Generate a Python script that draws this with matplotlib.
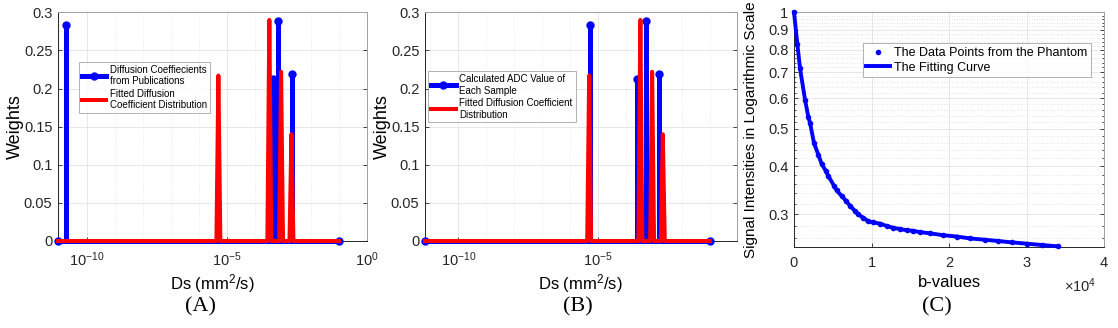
import numpy as np
import matplotlib
matplotlib.use('Agg')
import matplotlib.pyplot as plt
from matplotlib.ticker import FixedLocator, FuncFormatter, NullFormatter

plt.rcParams['font.family'] = ['Liberation Sans', 'DejaVu Sans']
plt.rcParams['mathtext.fontset'] = 'custom'
plt.rcParams['mathtext.rm'] = 'Liberation Sans'
plt.rcParams['mathtext.it'] = 'Liberation Sans:italic'

# ---------------- data ----------------
# Panel A
a_range = [9.1e-12, 1.0e-1]
a_pub_ds = [1.74e-11, 4.47e-4, 6.46e-4, 2.09e-3]
a_pub_w = [0.283, 0.213, 0.288, 0.219]
a_fit_ds = [4.9e-6, 3.24e-4, 8.5e-4, 2.0e-3]
a_fit_w = [0.217, 0.290, 0.222, 0.140]

# Panel B
b_range = [6.5e-12, 9.5e-2]
b_adc_ds = [5.0e-6, 2.34e-4, 4.9e-4, 1.41e-3]
b_adc_w = [0.283, 0.213, 0.288, 0.219]
b_fit_ds = [4.7e-6, 3.16e-4, 8.3e-4, 2.0e-3]
b_fit_w = [0.217, 0.290, 0.222, 0.140]

# Panel C
c_b = [0, 430, 774, 1420, 1850, 2065, 2580, 3140, 3570, 4130, 4430, 5160, 5500,
       6150, 6710, 7230, 7870, 8300, 8950, 9590, 10240, 11100, 11960, 12820,
       13680, 14540, 15400, 16260, 17550, 19270, 20990, 22710, 24650, 26360,
       28090, 30030, 31960, 34030]
c_sig = [1.0, 0.828, 0.717, 0.594, 0.536, 0.518, 0.459, 0.428, 0.405, 0.388,
         0.377, 0.356, 0.346, 0.335, 0.325, 0.316, 0.306, 0.300, 0.294, 0.288,
         0.286, 0.284, 0.280, 0.277, 0.275, 0.273, 0.272, 0.270, 0.268, 0.265,
         0.263, 0.260, 0.258, 0.256, 0.254, 0.252, 0.250, 0.248]

W, H = 1118, 328
fig = plt.figure(figsize=(W / 100, H / 100), dpi=100)


def px_axes(l, t, r, b):
    return fig.add_axes([l / W, 1 - b / H, (r - l) / W, (b - t) / H])


def stem_line(rng, ds, w):
    xs, ys = [rng[0]], [0.0]
    for d, v in zip(ds, w):
        xs += [d, d, d]
        ys += [0.0, v, 0.0]
    xs.append(rng[1]); ys.append(0.0)
    return xs, ys


def peak_line(rng, ds, w, half=10 ** 0.07):
    xs, ys = [rng[0]], [0.0]
    for d, v in zip(ds, w):
        xs += [d / half, d, d * half]
        ys += [0.0, v, 0.0]
    xs.append(rng[1]); ys.append(0.0)
    return xs, ys


def style(ax):
    for s in ['left', 'bottom']:
        ax.spines[s].set_color('#262626')
    for s in ['top', 'right']:
        ax.spines[s].set_color('#a0a0a0')
    for s in ax.spines.values():
        s.set_linewidth(0.7)
    ax.tick_params(direction='in', length=3, width=0.6, colors='#262626',
                   labelsize=10.5, top=False, right=True, pad=4)
    ax.tick_params(axis='x', pad=7)
    ax.tick_params(which='minor', direction='in', length=1.5, width=0.5,
                   right=True)
    ax.set_axisbelow(True)


blue = '#0000ff'
red = '#ff0000'


def weight_panel(ax, rng, bds, bw, rds, rw, xlim, lab1, lab2, leg_xy):
    bx, by = stem_line(rng, bds, bw)
    rx, ry = peak_line(rng, rds, rw)
    ax.plot(bx, by, '-', color=blue, lw=3.6, marker='o', ms=5,
            markevery=[0, 2, 5, 8, 11, len(bx) - 1], label=lab1,
            solid_joinstyle='miter', clip_on=False, zorder=3)
    ax.plot(rx, ry, '-', color=red, lw=2.9, label=lab2, clip_on=False,
            zorder=4)
    ax.set_xscale('log')
    ax.set_xlim(*xlim)
    ax.set_ylim(0, 0.3)
    ax.xaxis.set_major_locator(FixedLocator([1e-10, 1e-5, 1e0]))
    ax.xaxis.set_minor_locator(FixedLocator([10.0 ** k for k in range(-11, 1)]))
    ax.xaxis.set_minor_formatter(NullFormatter())
    ax.set_yticks([0, 0.05, 0.1, 0.15, 0.2, 0.25, 0.3])
    ax.set_yticklabels(['0', '0.05', '0.1', '0.15', '0.2', '0.25', '0.3'])
    ax.grid(True, which='major', color='#e3e3e3', lw=0.6)
    ax.grid(True, which='minor', axis='x', color='#e3e3e3', lw=0.5, ls=':')
    style(ax)
    ax.tick_params(axis='x', which='minor', length=0)
    ax.set_xlabel('Ds (mm$^2$/s)', fontsize=12)
    ax.xaxis.set_label_coords(0.5, -0.135)
    ax.set_ylabel('Weights', fontsize=13)
    leg = fig.legend(loc='upper left', bbox_to_anchor=leg_xy,
                     handles=ax.get_lines(), fontsize=7, frameon=True,
                     fancybox=False, edgecolor='#909090', handlelength=2.5,
                     borderpad=0.3, labelspacing=0.25, handletextpad=0.4,
                     borderaxespad=0, numpoints=1)
    leg.get_frame().set_linewidth(0.6)
    return leg


# Panel A
axA = px_axes(58, 12.3, 367, 241)
weight_panel(axA, a_range, a_pub_ds, a_pub_w, a_fit_ds, a_fit_w,
             (10 ** -11.04, 1.0),
             'Diffusion Coeffiecients\nfrom Publications',
             'Fitted Diffusion\nCoefficient Distribution',
             (79 / W, 1 - 61.7 / H))
axA.yaxis.set_label_coords(-0.11, 0.5)

# Panel B
axB = px_axes(425, 12.3, 736.7, 241)
weight_panel(axB, b_range, b_adc_ds, b_adc_w, b_fit_ds, b_fit_w,
             (10 ** -11.19, 10 ** -0.06),
             'Calculated ADC Value of\nEach Sample',
             'Fitted Diffusion Coefficient\nDistribution',
             (428.3 / W, 1 - 71 / H))
axB.yaxis.set_label_coords(-0.11, 0.5)

# Panel C
axC = px_axes(794, 12.3, 1104, 246.7)
axC.plot(c_b, c_sig, '.', color=blue, ms=6, label='The Data Points from the Phantom',
         clip_on=False, zorder=4)
axC.plot(c_b, c_sig, '-', color=blue, lw=2.8, label='The Fitting Curve',
         clip_on=False, zorder=3)
axC.set_yscale('log')
axC.set_xlim(0, 40000)
axC.set_ylim(0.2475, 1.0)
yt = [0.3, 0.4, 0.5, 0.6, 0.7, 0.8, 0.9, 1.0]
axC.yaxis.set_major_locator(FixedLocator(yt))
axC.yaxis.set_major_formatter(FuncFormatter(lambda v, p: ('%g' % round(v, 2))))
minors = [round(0.26 + 0.02 * i, 2) for i in range(37)]
minors = [m for m in minors if round(m * 10, 6) != round(m * 10)]
axC.yaxis.set_minor_locator(FixedLocator(minors))
axC.yaxis.set_minor_formatter(NullFormatter())
axC.set_xticks([0, 10000, 20000, 30000, 40000])
axC.xaxis.set_major_formatter(FuncFormatter(lambda v, p: '%d' % round(v / 1e4)))
axC.grid(True, which='major', color='#e3e3e3', lw=0.6)
axC.grid(True, which='minor', axis='y', color='#dcdcdc', lw=0.6, ls=(0, (1, 2)))
style(axC)
axC.set_xlabel('b-values', fontsize=12)
axC.xaxis.set_label_coords(0.5, -0.12)
axC.set_ylabel('Signal Intensities in Logarithmic Scale', fontsize=11)
axC.yaxis.set_label_coords(-0.115, 0.5)
fig.text(1080 / W, 1 - 286 / H, r'$\times$10$^4$', fontsize=10.5, ha='center',
         va='center', color='#262626')
legC = axC.legend(loc='upper left', bbox_to_anchor=(862.7 / W, 1 - 43.3 / H),
                  bbox_transform=fig.transFigure, fontsize=9, fancybox=False,
                  edgecolor='#909090', handlelength=1.9, borderpad=0.3,
                  labelspacing=0.2, handletextpad=0.3, borderaxespad=0)
legC.get_frame().set_linewidth(0.6)

for x, lab in [(200, '(A)'), (578.3, '(B)'), (936.7, '(C)')]:
    fig.text(x / W, 1 - 307 / H, lab, fontsize=16, family='Liberation Serif',
             ha='center', va='center')

fig.savefig('out.png', dpi=100)
